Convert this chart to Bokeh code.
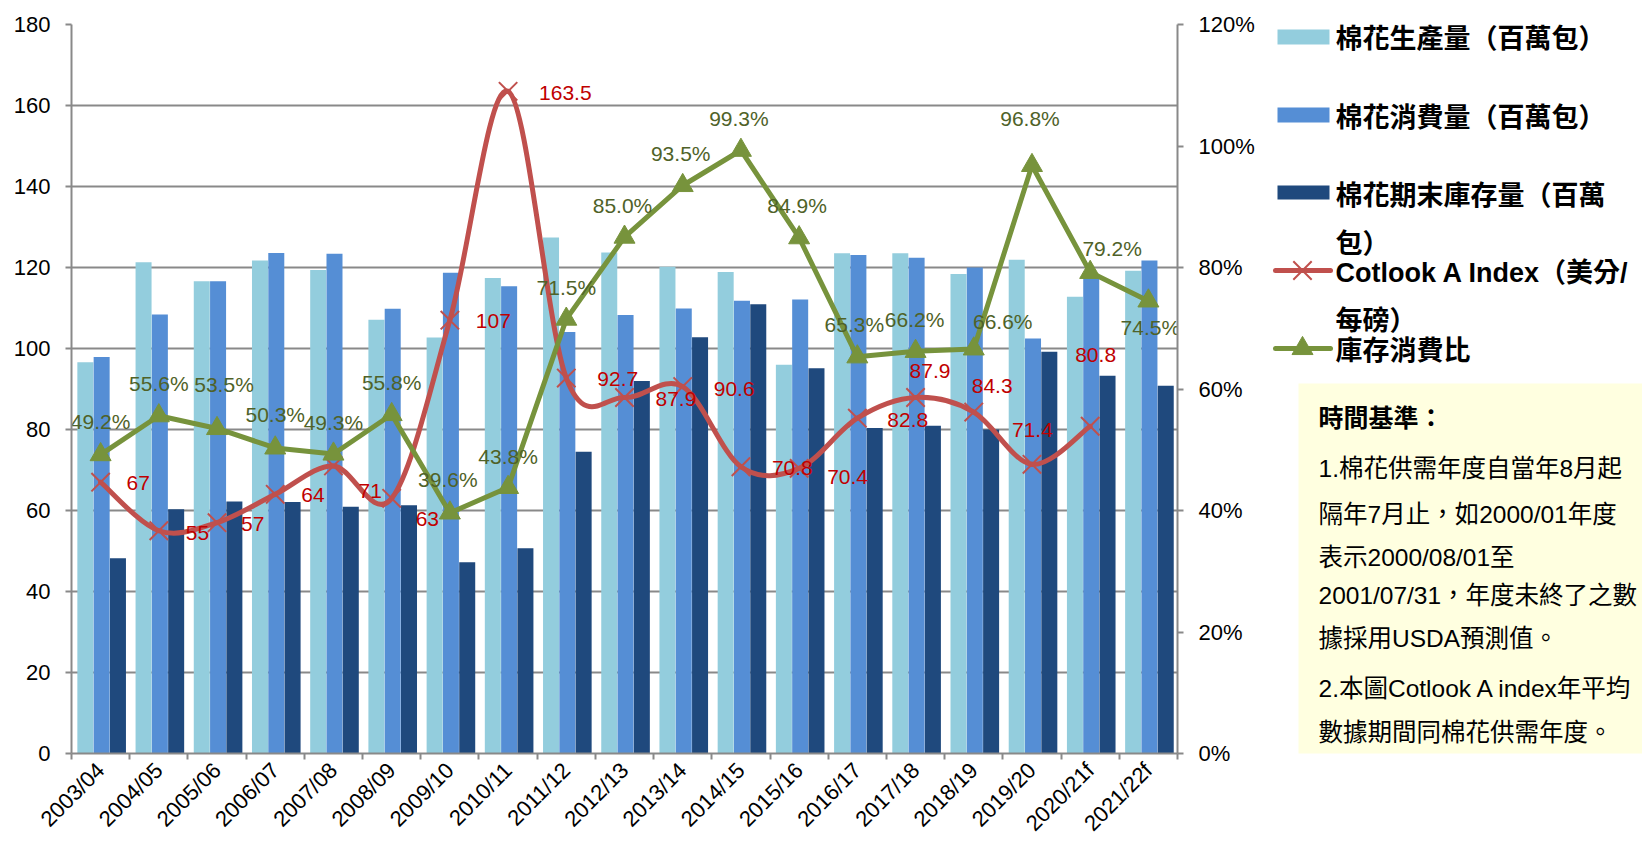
import math
from bokeh.plotting import figure
from bokeh.models import (Range1d, LinearAxis, FixedTicker, NumeralTickFormatter,
                          ColumnDataSource, Grid)
from bokeh.transform import dodge
from bokeh.layouts import row
from bokeh.embed import file_html
from bokeh.resources import INLINE
from bokeh.core.properties import value

# ---------------- data ----------------
seasons = ["2003/04", "2004/05", "2005/06", "2006/07", "2007/08", "2008/09", "2009/10",
           "2010/11", "2011/12", "2012/13", "2013/14", "2014/15", "2015/16", "2016/17",
           "2017/18", "2018/19", "2019/20", "2020/21f", "2021/22f"]
production = [96.6, 121.3, 116.6, 121.7, 119.4, 107.1, 102.7, 117.4, 127.4, 123.7,
              120.2, 118.9, 96.0, 123.5, 123.5, 118.4, 121.9, 112.8, 119.2]
consumption = [97.9, 108.4, 116.6, 123.6, 123.4, 109.8, 118.7, 115.4, 104.1, 108.3,
               109.9, 111.8, 112.1, 123.1, 122.4, 120.0, 102.5, 117.8, 121.7]
ending_stocks = [48.2, 60.3, 62.2, 62.1, 60.9, 61.3, 47.2, 50.7, 74.5, 92.0,
                 102.8, 110.9, 95.1, 80.4, 80.9, 80.0, 99.2, 93.3, 90.8]
cotlook_index = [67, 55, 57, 64, 71, 63, 107, 163.5, 92.7, 87.9, 90.6, 70.8,
                 70.4, 82.8, 87.9, 84.3, 71.4, 80.8]
stock_use_ratio = [49.2, 55.6, 53.5, 50.3, 49.3, 55.8, 39.6, 43.8, 71.5, 85.0,
                   93.5, 99.3, 84.9, 65.3, 66.2, 66.6, 96.8, 79.2, 74.5]

left_ticks = [0, 20, 40, 60, 80, 100, 120, 140, 160, 180]
right_ticks = [0, 0.2, 0.4, 0.6, 0.8, 1.0, 1.2]

legend_labels = ["棉花生產量（百萬包）", "棉花消費量（百萬包）", "棉花期末庫存量（百萬", "包）",
                 "Cotlook A Index（美分/", "每磅）", "庫存消費比"]
note_title = "時間基準："
note_lines = ["1.棉花供需年度自當年8月起", "隔年7月止，如2000/01年度",
              "表示2000/08/01至", "2001/07/31，年度未終了之數",
              "據採用USDA預測值。", "2.本圖Cotlook A index年平均",
              "數據期間同棉花供需年度。"]

# ---------------- styles ----------------
FONT = "Liberation Sans, Noto Sans CJK TC"
C_PROD, C_CONS, C_STOCK = "#93CDDD", "#558ED5", "#1F497D"
C_RED, C_GREEN = "#C0504D", "#77933C"
C_RED_TXT, C_GREEN_TXT = "#C00000", "#4F6228"
GRID = "#898989"

# per-label screen offsets (px): red labels (left-aligned), green labels (centered)
red_dx = [26, 27, 24, 26, 25, 24, 26, 31, 31, 31, 31, 31, 28, 30, -6, -2, -20, -15]
red_dy = [1, 2, 1, 1, 25, 21, 1, 2, 1, 1, 2, 1, 9, 2, -27, -26, -34, -71]
green_dx = [0, 0, 7, 0, 0, 0, -2, 0, 0, -2, -2, -2, -2, -3, -1, 29, -2, 22, 2]
green_dy = [-33, -32, -44, -33, -32, -32, -33, -31, -32, -32, -32, -32, -32, -32, -32,
            -27, -47, -24, 27]

n = len(seasons)
xc = [i + 0.5 for i in range(n)]

# ---------------- main chart ----------------
p = figure(width=1262, height=848, x_range=Range1d(0, n), y_range=Range1d(0, 180),
           toolbar_location=None, output_backend="svg",
           min_border_left=71, min_border_right=85, min_border_top=24,
           min_border_bottom=95, outline_line_color=None,
           x_axis_location=None, y_axis_location=None)
p.background_fill_color = "white"
p.border_fill_color = "white"
p.xgrid.visible = False
p.ygrid.visible = False

bar_src = ColumnDataSource(dict(x=xc, production=production, consumption=consumption,
                                stocks=ending_stocks))
bw = 0.275
p.vbar(x=dodge("x", -0.262, range=p.x_range), top="production", width=bw, source=bar_src,
       fill_color=C_PROD, line_color=None)
p.vbar(x=dodge("x", 0.018, range=p.x_range), top="consumption", width=bw, source=bar_src,
       fill_color=C_CONS, line_color=None)
p.vbar(x=dodge("x", 0.298, range=p.x_range), top="stocks", width=bw, source=bar_src,
       fill_color=C_STOCK, line_color=None)

# axes
yaxis = LinearAxis(ticker=FixedTicker(ticks=left_ticks))
yaxis.axis_line_color = GRID
yaxis.axis_line_width = 2
yaxis.major_tick_line_color = GRID
yaxis.major_tick_line_width = 2
yaxis.major_tick_out = 6
yaxis.major_tick_in = 0
yaxis.minor_tick_line_color = None
yaxis.major_label_standoff = 15
yaxis.major_label_text_font = FONT
yaxis.major_label_text_font_size = "22px"
yaxis.major_label_text_color = "black"
p.add_layout(yaxis, "left")

p.extra_y_ranges = {"pct": Range1d(0, 1.2)}
raxis = LinearAxis(y_range_name="pct", ticker=FixedTicker(ticks=right_ticks),
                   formatter=NumeralTickFormatter(format="0%"))
raxis.axis_line_color = GRID
raxis.axis_line_width = 2
raxis.major_tick_line_color = GRID
raxis.major_tick_line_width = 2
raxis.major_tick_out = 6
raxis.major_tick_in = 0
raxis.minor_tick_line_color = None
raxis.major_label_standoff = 15
raxis.major_label_text_font = FONT
raxis.major_label_text_font_size = "22px"
raxis.major_label_text_color = "black"
p.add_layout(raxis, "right")

xaxis = LinearAxis(ticker=FixedTicker(ticks=xc, minor_ticks=list(range(n + 1))))
xaxis.major_label_overrides = {x: s for x, s in zip(xc, seasons)}
xaxis.axis_line_color = GRID
xaxis.axis_line_width = 2
xaxis.major_tick_line_color = None
xaxis.major_tick_out = 0
xaxis.major_tick_in = 0
xaxis.minor_tick_line_color = GRID
xaxis.minor_tick_line_width = 2
xaxis.minor_tick_out = 6
xaxis.minor_tick_in = 0
xaxis.major_label_orientation = math.pi / 4
xaxis.major_label_standoff = 7
xaxis.major_label_text_font = FONT
xaxis.major_label_text_font_size = "22px"
xaxis.major_label_text_color = "black"
p.add_layout(xaxis, "below")

p.add_layout(Grid(dimension=1, ticker=yaxis.ticker, grid_line_color=GRID,
                  grid_line_width=2))

# smoothed Cotlook line (Bezier segments built from the data points)
rx = xc[:len(cotlook_index)]
ry = cotlook_index
k = 1.0 / 6.0
seg = dict(x0=[], y0=[], x1=[], y1=[], cx0=[], cy0=[], cx1=[], cy1=[])
m = len(rx)
for i in range(m - 1):
    a = max(i - 1, 0)
    d = min(i + 2, m - 1)
    seg["x0"].append(rx[i]); seg["y0"].append(ry[i])
    seg["x1"].append(rx[i + 1]); seg["y1"].append(ry[i + 1])
    seg["cx0"].append(rx[i] + (rx[i + 1] - rx[a]) * k)
    seg["cy0"].append(ry[i] + (ry[i + 1] - ry[a]) * k)
    seg["cx1"].append(rx[i + 1] - (rx[d] - rx[i]) * k)
    seg["cy1"].append(ry[i + 1] - (ry[d] - ry[i]) * k)
p.bezier(source=ColumnDataSource(seg), x0="x0", y0="y0", x1="x1", y1="y1",
         cx0="cx0", cy0="cy0", cx1="cx1", cy1="cy1",
         line_color=C_RED, line_width=5, line_cap="round")
p.scatter(rx, ry, marker="x", size=26, line_color=C_RED, line_width=2)

# stock-to-use line
ratio_frac = [v / 100.0 for v in stock_use_ratio]
p.line(xc, ratio_frac, y_range_name="pct", line_color=C_GREEN, line_width=5,
       line_join="round")
p.scatter(xc, ratio_frac, y_range_name="pct", marker="triangle", size=21,
          fill_color=C_GREEN, line_color=C_GREEN)

# data labels
red_src = ColumnDataSource(dict(x=rx, y=ry, t=[f"{v:g}" for v in ry], dx=red_dx, dy=red_dy))
p.text(x="x", y="y", text="t", x_offset="dx", y_offset="dy", source=red_src,
       text_font=value(FONT), text_font_size="21px", text_color=C_RED_TXT,
       text_align="left", text_baseline="middle")
green_src = ColumnDataSource(dict(x=xc, y=ratio_frac, t=[f"{v:.1f}%" for v in stock_use_ratio],
                                  dx=green_dx, dy=green_dy))
p.text(x="x", y="y", text="t", x_offset="dx", y_offset="dy", source=green_src,
       y_range_name="pct", text_font=value(FONT), text_font_size="21px",
       text_color=C_GREEN_TXT, text_align="center", text_baseline="middle")

# ---------------- side panel: legend + note (frame aligned with main frame) ----------------
s = figure(width=380, height=848, x_range=Range1d(0, 380), y_range=Range1d(753, 24),
           x_axis_type=None, y_axis_type=None, toolbar_location=None,
           output_backend="svg", min_border=0, outline_line_color=None)
s.grid.visible = False
s.background_fill_color = "white"
s.border_fill_color = "white"

s.quad(left=[15, 15, 15], right=[67, 67, 67], top=[29, 107, 185], bottom=[44, 122, 199],
       fill_color=[C_PROD, C_CONS, C_STOCK], line_color=None)
s.segment(x0=[13, 13], y0=[270, 348], x1=[68, 68], y1=[270, 348],
          line_color=[C_RED, C_GREEN], line_width=5, line_cap="round")
s.scatter([40], [270], marker="x", size=26, line_color=C_RED, line_width=2)
s.scatter([40], [348], marker="triangle", size=21, fill_color=C_GREEN, line_color=C_GREEN)
s.text(x=[73] * 7, y=[38, 117, 195, 243, 272, 320, 350], text=legend_labels,
       text_font=value(FONT), text_font_size="27px", text_font_style="bold",
       text_color="black", text_align="left", text_baseline="middle")

s.quad(left=[36], right=[390], top=[383], bottom=[763], fill_color="#FFFFE0", line_color=None)
s.text(x=[56], y=[417], text=[note_title], text_font=value(FONT), text_font_size="25px",
       text_font_style="bold", text_color="black", text_align="left", text_baseline="middle")
s.text(x=[56] * 7, y=[468, 514, 557, 595, 638, 688, 732], text=note_lines,
       text_font=value(FONT), text_font_size="24.5px", text_color="black",
       text_align="left", text_baseline="middle")

layout = row(p, s)
open("out.html", "w").write(file_html(layout, INLINE))
